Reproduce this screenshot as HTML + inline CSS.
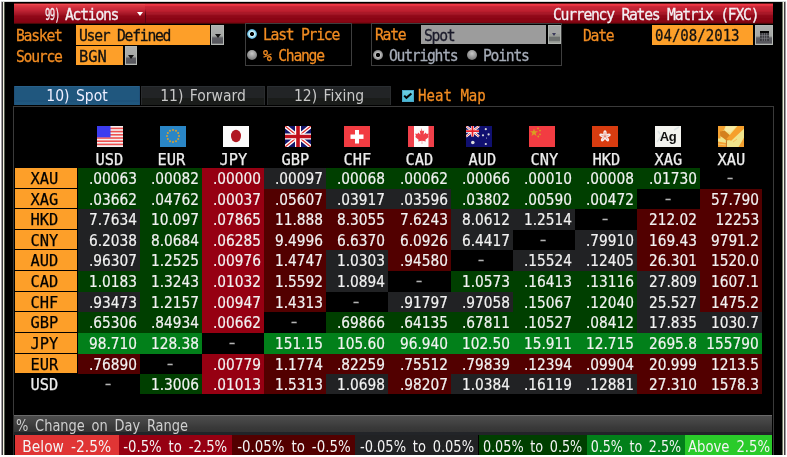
<!DOCTYPE html>
<html><head><meta charset="utf-8">
<style>
*{margin:0;padding:0;box-sizing:border-box}
html,body{width:787px;height:457px;overflow:hidden;background:#fff}
body{position:relative;font-family:"DejaVu Sans Condensed","DejaVu Sans","Liberation Sans",sans-serif;font-stretch:condensed}
.a{position:absolute}
#scr{position:absolute;left:1px;top:1px;width:785px;height:454px;background:#000}
.vl{position:absolute;top:1px;width:1px;height:454px}
.t{position:absolute;white-space:pre;font-family:"DejaVu Sans Mono",monospace;font-size:16px;line-height:16px;letter-spacing:-1.37px;transform:scaleX(.92);transform-origin:0 0;-webkit-text-stroke:.3px currentColor}
.or{color:#f28c22}
/* title */
#title{position:absolute;left:14px;top:3px;width:759px;height:21px;background:linear-gradient(#6a1818 0px,#6a1818 1px,#f03848 1px,#f03848 2px,#e63440 2px,#e63440 3px,#cc2838 3px,#cc2838 4px,#c62535 4px,#c62535 5px,#c42434 5px,#c42434 6px,#c02232 6px,#c02232 7px,#be2030 7px,#be2030 8px,#b81c2c 8px,#b81c2c 9px,#aa1828 9px,#aa1828 10px,#a81828 10px,#a81828 11px,#a01424 11px,#a01424 12px,#940a1a 12px,#940a1a 13px,#900818 13px,#900818 14px,#8e0818 14px,#8e0818 15px,#8a0414 15px,#8a0414 16px,#8a0414 16px,#8a0414 17px,#8a0614 17px,#8a0614 18px,#880614 18px,#880614 19px,#7c0410 19px,#7c0410 20px,#4a0808 20px,#4a0808 21px)}
#actbtn{position:absolute;left:14px;top:4px;width:131px;height:19px;background:linear-gradient(#f04850 0px,#f04850 1px,#e03a44 1px,#e03a44 2px,#d83440 2px,#d83440 3px,#d0303c 3px,#d0303c 4px,#cc2c3a 4px,#cc2c3a 5px,#c82838 5px,#c82838 6px,#c02434 6px,#c02434 7px,#b82030 7px,#b82030 8px,#b01c2c 8px,#b01c2c 9px,#a81828 9px,#a81828 10px,#a01424 10px,#a01424 11px,#980c1c 11px,#980c1c 12px,#900818 12px,#900818 13px,#8e0818 13px,#8e0818 14px,#8a0616 14px,#8a0616 15px,#880414 15px,#880414 16px,#880414 16px,#880414 17px,#860414 17px,#860414 18px,#800410 18px,#800410 19px)}
.field{position:absolute;background:#fd9f29;color:#000}
.dd{position:absolute;border:1px solid #b4b8b4;background:linear-gradient(#aeb0ae 0,#a6a8a6 55%,#8a8c8a 60%,#5e5e64 66%,#56565c 94%,#8a8c8a 100%)}
.dd i{position:absolute;left:50%;top:50%;margin-left:-3px;margin-top:-1px;width:0;height:0;border-left:3px solid transparent;border-right:3px solid transparent;border-top:4px solid #111}
.box{position:absolute;border:1px solid #3e3e3e}
.rad{position:absolute;width:10px;height:10px;border-radius:50%}
.tab{position:absolute;top:86px;height:19px;padding-top:1px;font-size:15.5px;word-spacing:2px;line-height:19px;display:flex;justify-content:center;text-align:center;color:#c8c8c8;background:linear-gradient(#2a2e32 0,#2a2e32 1px,#222426 1px,#222426 12px,#1a1c1a 12px,#1a1c1a 100%);border-left:1px solid #2a2c2e;border-right:1px solid #2a2c2e}
.tab span{display:inline-block;transform:scaleX(1)}
/* table */
.lab{position:absolute;left:15px;width:62px;background:#fd9f29;color:#000;font-family:"DejaVu Sans Mono",monospace;font-size:16px;line-height:21px;text-align:center;padding-right:4px}
.lab span,.ch span{display:inline-block;transform:scaleX(.96);transform-origin:50% 50%;-webkit-text-stroke:.25px currentColor}
.lab.usd{background:transparent;color:#eee}
.c{position:absolute;color:#f2f2f2;font-size:16.5px;line-height:21px;text-align:right;padding-right:3px;-webkit-text-stroke:.2px currentColor}
.c span{display:inline-block;transform:scaleX(.924);transform-origin:100% 50%}
.c.d{text-align:center;padding-right:0;color:#b4b4b4}
.c.d span{transform:translateY(-1px) scaleX(1.25)}
.ch{position:absolute;top:151px;font-family:"DejaVu Sans Mono",monospace;font-size:16px;line-height:18px;text-align:center;color:#eee}
.flag{position:absolute;top:126px;width:26px;height:21px}
.lg{position:absolute;top:435px;height:20px;padding-top:2px;display:flex;justify-content:center;font-family:"DejaVu Sans Condensed","DejaVu Sans",sans-serif;font-stretch:condensed;font-size:16.5px;word-spacing:3px;line-height:20px;text-align:center;color:#f4f4f4;white-space:pre}
.lg span{display:inline-block;transform:scaleX(.805)}
</style></head><body>
<div id="scr"></div>
<div class="vl" style="left:1px;background:#a09aa0"></div>
<div class="vl" style="left:2px;background:#3c3c3c"></div>
<div class="vl" style="left:3px;background:#f2eee0"></div>
<div class="vl" style="left:4px;background:#505a4c"></div>
<div class="vl" style="left:782px;background:#6a7464"></div>
<div class="vl" style="left:783px;background:#f2eee0"></div>
<div class="vl" style="left:784px;background:#404040"></div>
<div class="vl" style="left:785px;background:#a09aa0"></div>
<div class="a" style="left:1px;top:1px;width:785px;height:1px;background:#d4d8d8"></div>

<!-- title bar -->
<div id="title"></div>
<div id="actbtn"></div>
<div class="a" style="left:145px;top:9px;width:1px;height:14px;background:linear-gradient(rgba(90,6,18,0),#5a0612 40%,#5a0612)"></div>
<div class="t" style="left:45px;top:7px;color:#f4f0f4;letter-spacing:-1px;transform:scaleX(.56)">99)</div>
<div class="t" style="left:65px;top:7px;color:#f4f0f4">Actions</div>
<div class="a" style="left:137px;top:12px;width:0;height:0;border-left:3px solid transparent;border-right:3px solid transparent;border-top:4px solid #fff"></div>
<div class="t" style="left:553px;top:7px;color:#f4f0f4">Currency Rates Matrix (FXC)</div>

<!-- row 1/2 controls -->
<div class="t or" style="left:16px;top:28px">Basket</div>
<div class="field" style="left:76px;top:25px;width:134px;height:20px"></div>
<div class="t" style="left:79px;top:28px;color:#111">User Defined</div>
<div class="dd" style="left:211px;top:25px;width:13px;height:20px"><i></i></div>
<div class="t or" style="left:16px;top:49px">Source</div>
<div class="field" style="left:76px;top:46px;width:47px;height:19px"></div>
<div class="t" style="left:79px;top:49px;color:#111;letter-spacing:0;transform:scaleX(.96)">BGN</div>
<div class="dd" style="left:125px;top:46px;width:12px;height:19px"><i></i></div>

<div class="box" style="left:245px;top:23px;width:107px;height:43px"></div>
<div class="rad" style="left:247px;top:29px;background:radial-gradient(circle at 50% 50%,#000 0,#000 1.6px,#d8f4fc 2.4px,#9adcf0 3.5px,#5aa8d0 4.6px,#2a5a80 5px)"></div>
<div class="rad" style="left:247px;top:50px;background:radial-gradient(circle at 50% 35%,#c8c8c8,#8a8a8a 60%,#505050)"></div>
<div class="t or" style="left:263px;top:27px">Last Price</div>
<div class="t or" style="left:263px;top:48px">% Change</div>

<div class="box" style="left:371px;top:23px;width:191px;height:43px"></div>
<div class="t or" style="left:375px;top:27px">Rate</div>
<div class="a" style="left:421px;top:25px;width:125px;height:19px;background:#9c9c9c"></div>
<div class="t" style="left:424px;top:28px;color:#1a1a2a">Spot</div>
<div class="a" style="left:548px;top:25px;width:13px;height:19px;border:1px solid #b0b4b0;background:linear-gradient(#a2a4a2 0,#a2a4a2 45%,#9a9e98 50%,#9a9e98 60%,#6e7270 65%,#6e7270 88%,#9a9e98 92%)"></div>
<div class="a" style="left:552px;top:33px;width:0;height:0;border-left:2.5px solid transparent;border-right:2.5px solid transparent;border-top:3px solid #3a3a5a"></div>
<div class="rad" style="left:373px;top:50px;background:radial-gradient(circle at 50% 50%,#000 0,#000 25%,#c0c0c0 35%,#808080 70%,#404040)"></div>
<div class="t" style="left:389px;top:48px;color:#a6acb8">Outrights</div>
<div class="rad" style="left:467px;top:50px;background:radial-gradient(circle at 50% 35%,#c8c8c8,#8a8a8a 60%,#505050)"></div>
<div class="t" style="left:483px;top:48px;color:#a6acb8">Points</div>

<div class="t or" style="left:583px;top:28px">Date</div>
<div class="field" style="left:652px;top:25px;width:101px;height:20px"></div>
<div class="t" style="left:655px;top:28px;color:#111;letter-spacing:0;transform:scaleX(.878)">04/08/2013</div>
<div class="dd" style="left:755px;top:25px;width:18px;height:20px"><svg class="a" style="left:3px;top:4px" width="11" height="11" viewBox="0 0 11 11"><rect x="1" y="1" width="9" height="2" fill="#050505"/><rect x="1" y="3" width="9" height="8" fill="#3a3a3e"/><g stroke="#8a8a90" stroke-width=".6"><path d="M1 5.6H10M1 8.3H10M3.3 3V11M5.5 3V11M7.7 3V11"/></g></svg></div>

<!-- tabs -->
<div class="tab" style="left:14px;width:126px;background:linear-gradient(#28608a 0,#28608a 1px,#20577e 1px,#20577e 14px,#1b4e76 15px,#20577e 16px,#20577e 100%);border-color:#1e4f78;color:#eef"><span>10) Spot</span></div>
<div class="tab" style="left:141px;width:124px"><span>11) Forward</span></div>
<div class="tab" style="left:267px;width:124px"><span>12) Fixing</span></div>
<svg class="a" style="left:402px;top:90px" width="12" height="12" viewBox="0 0 12 12"><defs><linearGradient id="cb" x1="0" y1="0" x2="0" y2="1"><stop offset="0" stop-color="#70d2e4"/><stop offset="1" stop-color="#44b6d2"/></linearGradient></defs><rect width="12" height="12" fill="url(#cb)"/><rect x=".5" y=".5" width="11" height="11" fill="none" stroke="#4aa8c8" stroke-width="1"/><path d="M2.2 5.6L4.4 7.8L9.4 3.4" fill="none" stroke="#050505" stroke-width="2"/></svg>
<div class="t or" style="left:418px;top:88px;letter-spacing:0;transform:scaleX(.88)">Heat Map</div>

<!-- panel -->
<div class="a" style="left:13px;top:106px;width:761px;height:309px;border:1px solid #3a3a3a;border-bottom:0"></div>

<!-- flags -->
<svg class="flag" style="left:97px" viewBox="0 0 26 21"><rect width="26" height="21" fill="#f4f0f0"/><g fill="#ee5050"><rect y="1.6" width="26" height="1.6"/><rect y="4.8" width="26" height="1.6"/><rect y="8" width="26" height="1.6"/><rect y="11.2" width="26" height="1.6"/><rect y="14.4" width="26" height="1.6"/><rect y="17.6" width="26" height="1.6"/></g><rect width="13.5" height="11.3" fill="#3c3cf0"/></svg>
<svg class="flag" style="left:160px" viewBox="0 0 26 21"><rect width="26" height="21" fill="#2a86c6"/><g fill="#d8a030"><circle cx="13" cy="4" r="1"/><circle cx="16" cy="4.8" r="1"/><circle cx="18.2" cy="7" r="1"/><circle cx="19" cy="10" r="1"/><circle cx="18.2" cy="13" r="1"/><circle cx="16" cy="15.2" r="1"/><circle cx="13" cy="16" r="1"/><circle cx="10" cy="15.2" r="1"/><circle cx="7.8" cy="13" r="1"/><circle cx="7" cy="10" r="1"/><circle cx="7.8" cy="7" r="1"/><circle cx="10" cy="4.8" r="1"/></g></svg>
<svg class="flag" style="left:223px" viewBox="0 0 26 21"><rect width="26" height="21" fill="#fbfbfb"/><ellipse cx="13" cy="10" rx="5" ry="6.2" fill="#b01822"/></svg>
<svg class="flag" style="left:285px" viewBox="0 0 26 21"><rect width="26" height="21" fill="#12146a"/><path d="M0 0L26 21M26 0L0 21" stroke="#fff" stroke-width="4"/><path d="M0 0L26 21M26 0L0 21" stroke="#e03030" stroke-width="1.3"/><path d="M13 0V21M0 10.5H26" stroke="#fff" stroke-width="6"/><path d="M13 0V21M0 10.5H26" stroke="#c0101c" stroke-width="3.6"/></svg>
<svg class="flag" style="left:344px" viewBox="0 0 26 21"><rect width="26" height="21" fill="#f23c42"/><rect x="11" y="4" width="4" height="13.5" fill="#fff"/><rect x="6.5" y="8.5" width="13" height="4.4" fill="#fff"/></svg>
<svg class="flag" style="left:408px" viewBox="0 0 26 21"><rect width="26" height="21" fill="#fbfbfb"/><rect width="6" height="21" fill="#f0404a"/><rect x="20.5" width="5.5" height="21" fill="#f0404a"/><path d="M13 2l1.6 3.2 1.6-.8-.6 4 2.2-2 .8 1.6 2.2-.4-.8 2.6 1 .6-3.6 3 .4 1.6-3.6-.6v3.2h-.4v-3.2l-3.6.6.4-1.6-3.6-3 1-.6-.8-2.6 2.2.4.8-1.6 2.2 2-.6-4 1.6.8z" fill="#f0404a"/></svg>
<svg class="flag" style="left:466px" viewBox="0 0 26 21"><rect width="26" height="21" fill="#101070"/><path d="M0 0L13 10.5M13 0L0 10.5" stroke="#fff" stroke-width="2.4"/><path d="M0 0L13 10.5M13 0L0 10.5" stroke="#e03030" stroke-width=".8"/><path d="M6.5 0V10.5M0 5.2H13" stroke="#fff" stroke-width="3"/><path d="M6.5 0V10.5M0 5.2H13" stroke="#e8202a" stroke-width="1.8"/><g fill="#ddd"><circle cx="6.8" cy="16.5" r="1.8"/><circle cx="19.8" cy="3.2" r="1.1"/><circle cx="17" cy="9.3" r="1.1"/><circle cx="22.6" cy="8.4" r="1.1"/><circle cx="19.8" cy="18" r="1.1"/><circle cx="20.5" cy="12" r=".5"/></g></svg>
<svg class="flag" style="left:529px" viewBox="0 0 26 21"><rect width="26" height="21" fill="#f23c42"/><g fill="#d8a020"><path d="M5 2.4l1 2.9h3l-2.4 1.8.9 2.9-2.5-1.8-2.5 1.8.9-2.9-2.4-1.8h3z"/><circle cx="9" cy="2.4" r=".9"/><circle cx="11" cy="4.6" r=".9"/><circle cx="11" cy="8.3" r=".9"/><circle cx="9.3" cy="10.5" r=".9"/></g></svg>
<svg class="flag" style="left:592px" viewBox="0 0 26 21"><rect width="26" height="21" fill="#d83c10"/><g fill="#f6eeee"><ellipse cx="13" cy="7.2" rx="1.7" ry="2.9" transform="rotate(0 13 10.3)"/><ellipse cx="13" cy="7.2" rx="1.7" ry="2.9" transform="rotate(72 13 10.3)"/><ellipse cx="13" cy="7.2" rx="1.7" ry="2.9" transform="rotate(144 13 10.3)"/><ellipse cx="13" cy="7.2" rx="1.7" ry="2.9" transform="rotate(216 13 10.3)"/><ellipse cx="13" cy="7.2" rx="1.7" ry="2.9" transform="rotate(288 13 10.3)"/></g><g stroke="#e05030" stroke-width=".5" fill="none"><path d="M13 10.3L13 6M13 10.3L16.5 9.5M13 10.3L15.3 13.3M13 10.3L10.7 13.3M13 10.3L9.5 9.5"/></g></svg>
<svg class="flag" style="left:655px" viewBox="0 0 26 21"><rect width="26" height="21" fill="#f4f4f0"/><path d="M2 16L7 9M19 4L24 1M3 5L5 8" stroke="#dde4e4" stroke-width="1.5"/><text x="13" y="14.6" text-anchor="middle" font-family="Liberation Sans, sans-serif" font-weight="bold" font-size="13" letter-spacing="-.3" fill="#111">Ag</text></svg>
<svg class="flag" style="left:718px" viewBox="0 0 26 21"><rect width="26" height="21" fill="#f0e48c"/><path d="M8 0.5H18L12.5 6.5L7 5Z" fill="#f8eaa6"/><path d="M0 0H7.5L6 4L2.5 6V12.5H0Z" fill="#f4a030"/><path d="M2 5.5L6.5 4.5L10.5 8L13.5 10.5L11.5 14L8.5 14.5L4.5 11.5L2.2 10Z" fill="#d4811e"/><path d="M19.5 0H26V2.8L13.2 14.8L8.3 13Z" fill="#f6a02c"/><path d="M0 15.5L8 17V21H0Z" fill="#f4a030"/><path d="M0 18L8 19" stroke="#f6d080" stroke-width=".8"/><path d="M26 11.5V21H20.5L23.5 16Z" fill="#f4a030"/><path d="M8.4 14.2V21" stroke="#c07020" stroke-width="1"/><path d="M15 16L19 13" stroke="#f6c060" stroke-width="1"/></svg>

<div class="ch" style="left:78px;width:62px"><span>USD</span></div>
<div class="ch" style="left:140px;width:62px"><span>EUR</span></div>
<div class="ch" style="left:202px;width:62px"><span>JPY</span></div>
<div class="ch" style="left:264px;width:62px"><span>GBP</span></div>
<div class="ch" style="left:326px;width:62px"><span>CHF</span></div>
<div class="ch" style="left:388px;width:63px"><span>CAD</span></div>
<div class="ch" style="left:451px;width:62px"><span>AUD</span></div>
<div class="ch" style="left:513px;width:62px"><span>CNY</span></div>
<div class="ch" style="left:575px;width:62px"><span>HKD</span></div>
<div class="ch" style="left:637px;width:63px"><span>XAG</span></div>
<div class="ch" style="left:700px;width:62px"><span>XAU</span></div>
<div class="lab" style="top:168px;height:20px"><span>XAU</span></div>
<div class="c" style="left:78px;top:168px;width:62px;height:21px;background:#003f00"><span>.00063</span></div>
<div class="c" style="left:140px;top:168px;width:62px;height:21px;background:#003f00"><span>.00082</span></div>
<div class="c" style="left:202px;top:168px;width:62px;height:21px;background:#960012"><span>.00000</span></div>
<div class="c" style="left:264px;top:168px;width:62px;height:21px;background:#212224"><span>.00097</span></div>
<div class="c" style="left:326px;top:168px;width:62px;height:21px;background:#003f00"><span>.00068</span></div>
<div class="c" style="left:388px;top:168px;width:63px;height:21px;background:#003f00"><span>.00062</span></div>
<div class="c" style="left:451px;top:168px;width:62px;height:21px;background:#003f00"><span>.00066</span></div>
<div class="c" style="left:513px;top:168px;width:62px;height:21px;background:#003f00"><span>.00010</span></div>
<div class="c" style="left:575px;top:168px;width:62px;height:21px;background:#003f00"><span>.00008</span></div>
<div class="c" style="left:637px;top:168px;width:63px;height:21px;background:#003f00"><span>.01730</span></div>
<div class="c d" style="left:700px;top:168px;width:62px;height:21px;background:#000000"><span>-</span></div>
<div class="lab" style="top:189px;height:19px"><span>XAG</span></div>
<div class="c" style="left:78px;top:189px;width:62px;height:20px;background:#003f00"><span>.03662</span></div>
<div class="c" style="left:140px;top:189px;width:62px;height:20px;background:#003f00"><span>.04762</span></div>
<div class="c" style="left:202px;top:189px;width:62px;height:20px;background:#960012"><span>.00037</span></div>
<div class="c" style="left:264px;top:189px;width:62px;height:20px;background:#520000"><span>.05607</span></div>
<div class="c" style="left:326px;top:189px;width:62px;height:20px;background:#212224"><span>.03917</span></div>
<div class="c" style="left:388px;top:189px;width:63px;height:20px;background:#212224"><span>.03596</span></div>
<div class="c" style="left:451px;top:189px;width:62px;height:20px;background:#003f00"><span>.03802</span></div>
<div class="c" style="left:513px;top:189px;width:62px;height:20px;background:#003f00"><span>.00590</span></div>
<div class="c" style="left:575px;top:189px;width:62px;height:20px;background:#003f00"><span>.00472</span></div>
<div class="c d" style="left:637px;top:189px;width:63px;height:20px;background:#000000"><span>-</span></div>
<div class="c" style="left:700px;top:189px;width:62px;height:20px;background:#520000"><span>57.790</span></div>
<div class="lab" style="top:209px;height:20px"><span>HKD</span></div>
<div class="c" style="left:78px;top:209px;width:62px;height:21px;background:#212224"><span>7.7634</span></div>
<div class="c" style="left:140px;top:209px;width:62px;height:21px;background:#003f00"><span>10.097</span></div>
<div class="c" style="left:202px;top:209px;width:62px;height:21px;background:#960012"><span>.07865</span></div>
<div class="c" style="left:264px;top:209px;width:62px;height:21px;background:#520000"><span>11.888</span></div>
<div class="c" style="left:326px;top:209px;width:62px;height:21px;background:#520000"><span>8.3055</span></div>
<div class="c" style="left:388px;top:209px;width:63px;height:21px;background:#520000"><span>7.6243</span></div>
<div class="c" style="left:451px;top:209px;width:62px;height:21px;background:#212224"><span>8.0612</span></div>
<div class="c" style="left:513px;top:209px;width:62px;height:21px;background:#212224"><span>1.2514</span></div>
<div class="c d" style="left:575px;top:209px;width:62px;height:21px;background:#000000"><span>-</span></div>
<div class="c" style="left:637px;top:209px;width:63px;height:21px;background:#520000"><span>212.02</span></div>
<div class="c" style="left:700px;top:209px;width:62px;height:21px;background:#520000"><span>12253</span></div>
<div class="lab" style="top:230px;height:19px"><span>CNY</span></div>
<div class="c" style="left:78px;top:230px;width:62px;height:20px;background:#212224"><span>6.2038</span></div>
<div class="c" style="left:140px;top:230px;width:62px;height:20px;background:#003f00"><span>8.0684</span></div>
<div class="c" style="left:202px;top:230px;width:62px;height:20px;background:#960012"><span>.06285</span></div>
<div class="c" style="left:264px;top:230px;width:62px;height:20px;background:#520000"><span>9.4996</span></div>
<div class="c" style="left:326px;top:230px;width:62px;height:20px;background:#520000"><span>6.6370</span></div>
<div class="c" style="left:388px;top:230px;width:63px;height:20px;background:#520000"><span>6.0926</span></div>
<div class="c" style="left:451px;top:230px;width:62px;height:20px;background:#212224"><span>6.4417</span></div>
<div class="c d" style="left:513px;top:230px;width:62px;height:20px;background:#000000"><span>-</span></div>
<div class="c" style="left:575px;top:230px;width:62px;height:20px;background:#212224"><span>.79910</span></div>
<div class="c" style="left:637px;top:230px;width:63px;height:20px;background:#520000"><span>169.43</span></div>
<div class="c" style="left:700px;top:230px;width:62px;height:20px;background:#520000"><span>9791.2</span></div>
<div class="lab" style="top:250px;height:20px"><span>AUD</span></div>
<div class="c" style="left:78px;top:250px;width:62px;height:21px;background:#212224"><span>.96307</span></div>
<div class="c" style="left:140px;top:250px;width:62px;height:21px;background:#003f00"><span>1.2525</span></div>
<div class="c" style="left:202px;top:250px;width:62px;height:21px;background:#960012"><span>.00976</span></div>
<div class="c" style="left:264px;top:250px;width:62px;height:21px;background:#520000"><span>1.4747</span></div>
<div class="c" style="left:326px;top:250px;width:62px;height:21px;background:#212224"><span>1.0303</span></div>
<div class="c" style="left:388px;top:250px;width:63px;height:21px;background:#520000"><span>.94580</span></div>
<div class="c d" style="left:451px;top:250px;width:62px;height:21px;background:#000000"><span>-</span></div>
<div class="c" style="left:513px;top:250px;width:62px;height:21px;background:#212224"><span>.15524</span></div>
<div class="c" style="left:575px;top:250px;width:62px;height:21px;background:#212224"><span>.12405</span></div>
<div class="c" style="left:637px;top:250px;width:63px;height:21px;background:#520000"><span>26.301</span></div>
<div class="c" style="left:700px;top:250px;width:62px;height:21px;background:#520000"><span>1520.0</span></div>
<div class="lab" style="top:271px;height:20px"><span>CAD</span></div>
<div class="c" style="left:78px;top:271px;width:62px;height:21px;background:#003f00"><span>1.0183</span></div>
<div class="c" style="left:140px;top:271px;width:62px;height:21px;background:#003f00"><span>1.3243</span></div>
<div class="c" style="left:202px;top:271px;width:62px;height:21px;background:#960012"><span>.01032</span></div>
<div class="c" style="left:264px;top:271px;width:62px;height:21px;background:#520000"><span>1.5592</span></div>
<div class="c" style="left:326px;top:271px;width:62px;height:21px;background:#212224"><span>1.0894</span></div>
<div class="c d" style="left:388px;top:271px;width:63px;height:21px;background:#000000"><span>-</span></div>
<div class="c" style="left:451px;top:271px;width:62px;height:21px;background:#003f00"><span>1.0573</span></div>
<div class="c" style="left:513px;top:271px;width:62px;height:21px;background:#003f00"><span>.16413</span></div>
<div class="c" style="left:575px;top:271px;width:62px;height:21px;background:#003f00"><span>.13116</span></div>
<div class="c" style="left:637px;top:271px;width:63px;height:21px;background:#212224"><span>27.809</span></div>
<div class="c" style="left:700px;top:271px;width:62px;height:21px;background:#520000"><span>1607.1</span></div>
<div class="lab" style="top:292px;height:19px"><span>CHF</span></div>
<div class="c" style="left:78px;top:292px;width:62px;height:20px;background:#212224"><span>.93473</span></div>
<div class="c" style="left:140px;top:292px;width:62px;height:20px;background:#003f00"><span>1.2157</span></div>
<div class="c" style="left:202px;top:292px;width:62px;height:20px;background:#960012"><span>.00947</span></div>
<div class="c" style="left:264px;top:292px;width:62px;height:20px;background:#520000"><span>1.4313</span></div>
<div class="c d" style="left:326px;top:292px;width:62px;height:20px;background:#000000"><span>-</span></div>
<div class="c" style="left:388px;top:292px;width:63px;height:20px;background:#212224"><span>.91797</span></div>
<div class="c" style="left:451px;top:292px;width:62px;height:20px;background:#212224"><span>.97058</span></div>
<div class="c" style="left:513px;top:292px;width:62px;height:20px;background:#003f00"><span>.15067</span></div>
<div class="c" style="left:575px;top:292px;width:62px;height:20px;background:#003f00"><span>.12040</span></div>
<div class="c" style="left:637px;top:292px;width:63px;height:20px;background:#212224"><span>25.527</span></div>
<div class="c" style="left:700px;top:292px;width:62px;height:20px;background:#520000"><span>1475.2</span></div>
<div class="lab" style="top:312px;height:20px"><span>GBP</span></div>
<div class="c" style="left:78px;top:312px;width:62px;height:21px;background:#003f00"><span>.65306</span></div>
<div class="c" style="left:140px;top:312px;width:62px;height:21px;background:#003f00"><span>.84934</span></div>
<div class="c" style="left:202px;top:312px;width:62px;height:21px;background:#960012"><span>.00662</span></div>
<div class="c d" style="left:264px;top:312px;width:62px;height:21px;background:#000000"><span>-</span></div>
<div class="c" style="left:326px;top:312px;width:62px;height:21px;background:#003f00"><span>.69866</span></div>
<div class="c" style="left:388px;top:312px;width:63px;height:21px;background:#003f00"><span>.64135</span></div>
<div class="c" style="left:451px;top:312px;width:62px;height:21px;background:#003f00"><span>.67811</span></div>
<div class="c" style="left:513px;top:312px;width:62px;height:21px;background:#003f00"><span>.10527</span></div>
<div class="c" style="left:575px;top:312px;width:62px;height:21px;background:#003f00"><span>.08412</span></div>
<div class="c" style="left:637px;top:312px;width:63px;height:21px;background:#212224"><span>17.835</span></div>
<div class="c" style="left:700px;top:312px;width:62px;height:21px;background:#212224"><span>1030.7</span></div>
<div class="lab" style="top:333px;height:20px"><span>JPY</span></div>
<div class="c" style="left:78px;top:333px;width:62px;height:21px;background:#02801a"><span>98.710</span></div>
<div class="c" style="left:140px;top:333px;width:62px;height:21px;background:#02801a"><span>128.38</span></div>
<div class="c d" style="left:202px;top:333px;width:62px;height:21px;background:#000000"><span>-</span></div>
<div class="c" style="left:264px;top:333px;width:62px;height:21px;background:#02801a"><span>151.15</span></div>
<div class="c" style="left:326px;top:333px;width:62px;height:21px;background:#02801a"><span>105.60</span></div>
<div class="c" style="left:388px;top:333px;width:63px;height:21px;background:#02801a"><span>96.940</span></div>
<div class="c" style="left:451px;top:333px;width:62px;height:21px;background:#02801a"><span>102.50</span></div>
<div class="c" style="left:513px;top:333px;width:62px;height:21px;background:#02801a"><span>15.911</span></div>
<div class="c" style="left:575px;top:333px;width:62px;height:21px;background:#02801a"><span>12.715</span></div>
<div class="c" style="left:637px;top:333px;width:63px;height:21px;background:#02801a"><span>2695.8</span></div>
<div class="c" style="left:700px;top:333px;width:62px;height:21px;background:#02801a"><span>155790</span></div>
<div class="lab" style="top:354px;height:19px"><span>EUR</span></div>
<div class="c" style="left:78px;top:354px;width:62px;height:20px;background:#520000"><span>.76890</span></div>
<div class="c d" style="left:140px;top:354px;width:62px;height:20px;background:#000000"><span>-</span></div>
<div class="c" style="left:202px;top:354px;width:62px;height:20px;background:#960012"><span>.00779</span></div>
<div class="c" style="left:264px;top:354px;width:62px;height:20px;background:#520000"><span>1.1774</span></div>
<div class="c" style="left:326px;top:354px;width:62px;height:20px;background:#520000"><span>.82259</span></div>
<div class="c" style="left:388px;top:354px;width:63px;height:20px;background:#520000"><span>.75512</span></div>
<div class="c" style="left:451px;top:354px;width:62px;height:20px;background:#520000"><span>.79839</span></div>
<div class="c" style="left:513px;top:354px;width:62px;height:20px;background:#520000"><span>.12394</span></div>
<div class="c" style="left:575px;top:354px;width:62px;height:20px;background:#520000"><span>.09904</span></div>
<div class="c" style="left:637px;top:354px;width:63px;height:20px;background:#520000"><span>20.999</span></div>
<div class="c" style="left:700px;top:354px;width:62px;height:20px;background:#520000"><span>1213.5</span></div>
<div class="lab usd" style="top:374px;height:19px"><span>USD</span></div>
<div class="c d" style="left:78px;top:374px;width:62px;height:20px;background:#000000"><span>-</span></div>
<div class="c" style="left:140px;top:374px;width:62px;height:20px;background:#003f00"><span>1.3006</span></div>
<div class="c" style="left:202px;top:374px;width:62px;height:20px;background:#960012"><span>.01013</span></div>
<div class="c" style="left:264px;top:374px;width:62px;height:20px;background:#520000"><span>1.5313</span></div>
<div class="c" style="left:326px;top:374px;width:62px;height:20px;background:#212224"><span>1.0698</span></div>
<div class="c" style="left:388px;top:374px;width:63px;height:20px;background:#520000"><span>.98207</span></div>
<div class="c" style="left:451px;top:374px;width:62px;height:20px;background:#212224"><span>1.0384</span></div>
<div class="c" style="left:513px;top:374px;width:62px;height:20px;background:#212224"><span>.16119</span></div>
<div class="c" style="left:575px;top:374px;width:62px;height:20px;background:#212224"><span>.12881</span></div>
<div class="c" style="left:637px;top:374px;width:63px;height:20px;background:#520000"><span>27.310</span></div>
<div class="c" style="left:700px;top:374px;width:62px;height:20px;background:#520000"><span>1578.3</span></div>

<!-- bottom -->
<div class="a" style="left:14px;top:415px;width:758px;height:20px;background:linear-gradient(#6a6a6a 0,#6a6a6a 1px,#4c4c4c 1px,#464646 5px,#404040 9px,#3a3a3a 12px,#343434 17px,#222428 17px,#222428 20px)"></div>
<div class="t" style="left:16px;top:418px;color:#cfcfcf;letter-spacing:0;font-family:'DejaVu Sans Condensed','DejaVu Sans',sans-serif;font-stretch:condensed;font-size:16.5px;word-spacing:3px;-webkit-text-stroke:0;transform:scaleX(.875)">% Change on Day Range</div>
<div class="a" style="left:773px;top:107px;width:1px;height:348px;background:#3a3a3a"></div>
<div class="a" style="left:13px;top:415px;width:1px;height:40px;background:#2c2c2c"></div>

<div class="lg" style="left:15px;width:104px;background:#e03535"><span style="transform:scaleX(0.930)">Below -2.5%</span></div>
<div class="lg" style="left:119px;width:113px;background:#960012"><span style="transform:scaleX(0.893)">-0.5% to -2.5%</span></div>
<div class="lg" style="left:232px;width:123px;background:#520000"><span style="transform:scaleX(0.900)">-0.05% to -0.5%</span></div>
<div class="lg" style="left:355px;width:123px;background:#212224"><span style="transform:scaleX(0.878)">-0.05% to 0.05%</span></div>
<div class="lg" style="left:479px;width:108px;background:#003f00"><span style="transform:scaleX(0.863)">0.05% to 0.5%</span></div>
<div class="lg" style="left:587px;width:98px;background:#02801a"><span style="transform:scaleX(0.855)">0.5% to 2.5%</span></div>
<div class="lg" style="left:685px;width:87px;background:#2acb2a"><span style="transform:scaleX(0.893)">Above 2.5%</span></div>
</body></html>
